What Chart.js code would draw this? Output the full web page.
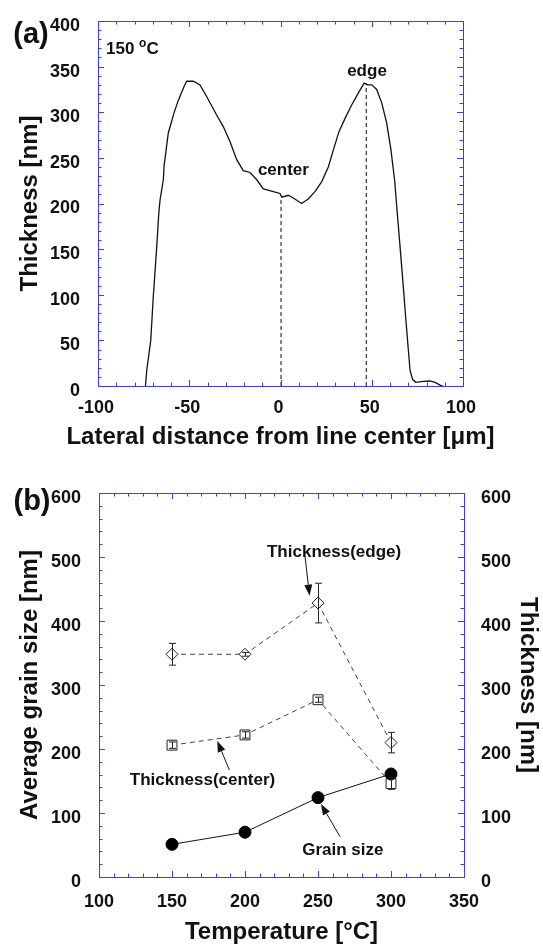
<!DOCTYPE html>
<html>
<head>
  <title>Thickness profile and grain size</title>
  <script src="https://cdn.jsdelivr.net/npm/chart.js"></script>
  <style>
    body { margin: 0; background: #fff; }
    canvas { position: absolute; left: 0; }
  </style>
</head>
<body>
  <canvas id="chartA" width="543" height="470" style="top:0"></canvas>
  <canvas id="chartB" width="543" height="474" style="top:470px"></canvas>

  <script>
    // (a) thickness profile across the line, 150 C
    const profileX = [-74, -73.3, -71.1, -69.7, -67.8, -66.7, -66, -64.2, -63.8, -61.5, -58.4, -56, -52.9, -51.4, -47.8,
      -44.1, -40.4, -35, -31.3, -27.7, -24, -20.4, -16.7, -13, -9.4, -3.9, -0.3, 0.7, 4.3, 7, 11.6, 15.2, 18.9, 22.6,
      26.2, 29, 32.1, 35.3, 39, 42.6, 45.8, 47.6, 50, 52.7, 55.5, 58.2, 60.5, 62.5, 64, 65.5, 67, 68.4, 69.9, 71,
      72.4, 74.2, 78.2, 81.9, 84.7, 87.4, 88.9];
    const profileY = [0, 17, 50, 98, 153, 189, 204, 226, 241, 277, 299, 313, 328, 334, 334,
      330, 317, 297, 284, 268, 248, 236, 234, 226, 216, 213, 211, 207, 209, 206, 200, 205, 213, 224,
      240, 259, 279, 293, 308, 321, 332, 330, 330, 325, 310, 288, 259, 226, 189, 153, 116, 80, 43, 17,
      7, 4, 5, 5.5, 4, 1, 0];
    const markX = [0.3, 47];        // dashed lines: center and edge
    const markTop = [207, 332];
    const aXTicks = [-100, -50, 0, 50, 100];
    const aYTicks = [0, 50, 100, 150, 200, 250, 300, 350, 400];

    // (b) versus temperature
    const temps = [150, 200, 250, 300];
    const grainSize = [51, 70, 124, 161];
    const thickEdge = [348, 348, 428, 210];
    const thickEdgeErr = [17, 3, 31, 16];
    const thickCenter = [206, 222, 277, 146];
    const thickCenterErr = [5, 5, 4, 9];
    const bXTicks = [100, 150, 200, 250, 300, 350];
    const bYTicks = [0, 100, 200, 300, 400, 500, 600];

    const FONT = "'Liberation Sans', Arial, sans-serif";
    Chart.defaults.font.family = FONT;
    Chart.defaults.color = '#111';

    const pts = (xs, ys) => xs.map((x, i) => ({ x: x, y: ys[i] }));
    const useTicks = list => scale => { scale.ticks = list.map(v => ({ value: v })); };

    // blue frame with inward major/minor ticks on all four sides
    const frameTicks = {
      id: 'frameTicks',
      afterDatasetsDraw(chart, args, opts) {
        const { ctx, chartArea: a, scales } = chart;
        ctx.save();
        ctx.strokeStyle = '#3b3bf5';
        ctx.lineWidth = 1;
        ctx.beginPath();
        const run = (scale, minor, horiz) => {
          for (let v = scale.min; v <= scale.max + 1e-6; v += minor) {
            const major = scale.ticks.some(t => Math.abs(t.value - v) < 1e-6);
            const len = major ? 6 : 3.5;
            const p = Math.round(scale.getPixelForValue(v)) + 0.5;
            if (horiz) {
              ctx.moveTo(p, a.bottom); ctx.lineTo(p, a.bottom - len);
              ctx.moveTo(p, a.top); ctx.lineTo(p, a.top + len);
            } else {
              ctx.moveTo(a.left, p); ctx.lineTo(a.left + len, p);
              ctx.moveTo(a.right, p); ctx.lineTo(a.right - len, p);
            }
          }
        };
        run(scales.x, opts.xMinor, true);
        run(scales.y, opts.yMinor, false);
        ctx.stroke();
        ctx.strokeRect(Math.round(a.left) + 0.5, Math.round(a.top) + 0.5, Math.round(a.width), Math.round(a.height));
        ctx.restore();
      }
    };

    // error bars from dataset.errorBars
    const errorBars = {
      id: 'errorBars',
      afterDatasetsDraw(chart) {
        const { ctx, scales: { y } } = chart;
        ctx.save();
        ctx.strokeStyle = '#222';
        ctx.lineWidth = 1;
        chart.data.datasets.forEach((ds, di) => {
          if (!ds.errorBars) return;
          chart.getDatasetMeta(di).data.forEach((el, i) => {
            const v = ds.data[i].y, e = ds.errorBars[i];
            const px = Math.round(el.x) + 0.5;
            const top = y.getPixelForValue(v + e), bot = y.getPixelForValue(v - e);
            ctx.beginPath();
            ctx.moveTo(px, top); ctx.lineTo(px, bot);
            ctx.moveTo(px - 3.5, top); ctx.lineTo(px + 3.5, top);
            ctx.moveTo(px - 3.5, bot); ctx.lineTo(px + 3.5, bot);
            ctx.stroke();
          });
        });
        ctx.restore();
      }
    };

    function arrow(ctx, x1, y1, x2, y2) {
      const ang = Math.atan2(y2 - y1, x2 - x1), L = 11, W = 4;
      const bx = x2 - L * Math.cos(ang), by = y2 - L * Math.sin(ang);
      ctx.beginPath(); ctx.moveTo(x1, y1); ctx.lineTo(bx, by); ctx.stroke();
      ctx.beginPath();
      ctx.moveTo(x2, y2);
      ctx.lineTo(bx + W * Math.sin(ang), by - W * Math.cos(ang));
      ctx.lineTo(bx - W * Math.sin(ang), by + W * Math.cos(ang));
      ctx.closePath(); ctx.fill();
    }

    // text notes placed in data coordinates, arrows, panel letter, wide axis title
    const notes = {
      id: 'notes',
      afterDatasetsDraw(chart, args, opts) {
        const { ctx, chartArea: area, scales: { x, y } } = chart;
        ctx.save();
        ctx.fillStyle = '#111';
        ctx.strokeStyle = '#111';
        ctx.lineWidth = 1;
        ctx.textBaseline = 'middle';
        (opts.labels || []).forEach(l => {
          let px = x.getPixelForValue(l.x);
          const py = y.getPixelForValue(l.y);
          const parts = l.parts || [[l.text, 0]];
          const widths = parts.map(p => {
            ctx.font = 'bold ' + (p[1] ? 12 : 17) + 'px ' + FONT;
            return ctx.measureText(p[0]).width;
          });
          const total = widths.reduce((s, w) => s + w, 0);
          if (l.align !== 'left') px -= total / 2;
          ctx.textAlign = 'left';
          parts.forEach((p, i) => {
            ctx.font = 'bold ' + (p[1] ? 12 : 17) + 'px ' + FONT;
            ctx.fillText(p[0], px, py - (p[1] ? 6 : 0));
            px += widths[i];
          });
        });
        (opts.arrows || []).forEach(ar => {
          arrow(ctx, x.getPixelForValue(ar[0]), y.getPixelForValue(ar[1]),
            x.getPixelForValue(ar[2]), y.getPixelForValue(ar[3]));
        });
        ctx.textAlign = 'center';
        if (opts.panel) {
          ctx.font = 'bold 29px ' + FONT;
          ctx.fillText(opts.panel.text, opts.panel.x, opts.panel.y);
        }
        if (opts.xTitle) {
          ctx.font = 'bold 24px ' + FONT;
          ctx.fillText(opts.xTitle.text, (area.left + area.right) / 2, area.bottom + opts.xTitle.gap);
        }
        ctx.restore();
      }
    };

    const tickFont = { size: 18, weight: 'bold' };
    const titleFont = { size: 24, weight: 'bold', lineHeight: 1 };

    new Chart(document.getElementById('chartA'), {
      type: 'scatter',
      data: {
        datasets: [
          { data: pts(profileX, profileY), showLine: true, borderColor: '#111', borderWidth: 1.3, pointRadius: 0 },
          { data: [{ x: markX[0], y: 0 }, { x: markX[0], y: markTop[0] }], showLine: true,
            borderColor: '#333', borderWidth: 1.2, borderDash: [4, 3], pointRadius: 0 },
          { data: [{ x: markX[1], y: 0 }, { x: markX[1], y: markTop[1] }], showLine: true,
            borderColor: '#333', borderWidth: 1.2, borderDash: [4, 3], pointRadius: 0 }
        ]
      },
      options: {
        responsive: false,
        animation: false,
        layout: { padding: { top: 21, right: 80, left: 0, bottom: 0 } },
        plugins: {
          legend: { display: false },
          tooltip: { enabled: false },
          frameTicks: { xMinor: 10, yMinor: 10 },
          notes: {
            labels: [
              { parts: [['150 ', 0], ['o', 1], ['C', 0]], x: -95.6, y: 369, align: 'left' },
              { text: 'center', x: 1.6, y: 236.7 },
              { text: 'edge', x: 47.4, y: 345 }
            ],
            panel: { text: '(a)', x: 31, y: 35 },
            xTitle: { text: 'Lateral distance from line center [\u03bcm]', gap: 51 }
          }
        },
        scales: {
          x: {
            type: 'linear', min: -100, max: 100,
            afterBuildTicks: useTicks(aXTicks),
            afterFit: s => { s.height = 84; },
            grid: { display: false }, border: { display: false },
            ticks: { font: tickFont, padding: 3, labelOffset: -2, maxRotation: 0 }
          },
          y: {
            type: 'linear', min: 0, max: 400,
            afterBuildTicks: useTicks(aYTicks),
            afterFit: s => { s.width = 98; },
            grid: { display: false }, border: { display: false },
            ticks: { font: tickFont, padding: 10, labelOffset: 5 },
            title: { display: true, text: 'Thickness [nm]', font: titleFont, padding: { top: 18 } }
          }
        }
      },
      plugins: [frameTicks, notes]
    });

    new Chart(document.getElementById('chartB'), {
      type: 'scatter',
      data: {
        datasets: [
          { label: 'Grain size', data: pts(temps, grainSize), showLine: true,
            borderColor: '#111', borderWidth: 1, pointRadius: 6, pointBackgroundColor: '#000', pointBorderColor: '#000' },
          { label: 'Thickness(edge)', data: pts(temps, thickEdge), showLine: true, errorBars: thickEdgeErr,
            borderColor: '#444', borderWidth: 1, borderDash: [5, 4], pointStyle: 'rectRot', pointRadius: 6,
            pointBackgroundColor: '#fff', pointBorderColor: '#222', pointBorderWidth: 1 },
          { label: 'Thickness(center)', data: pts(temps, thickCenter), showLine: true, errorBars: thickCenterErr,
            borderColor: '#444', borderWidth: 1, borderDash: [5, 4], pointStyle: 'rect', pointRadius: 7,
            pointBackgroundColor: '#fff', pointBorderColor: '#222', pointBorderWidth: 1 }
        ]
      },
      options: {
        responsive: false,
        animation: false,
        layout: { padding: { top: 23, right: 0, left: 0, bottom: 0 } },
        plugins: {
          legend: { display: false },
          tooltip: { enabled: false },
          frameTicks: { xMinor: 10, yMinor: 20 },
          notes: {
            labels: [
              { text: 'Thickness(edge)', x: 261, y: 508 },
              { text: 'Thickness(center)', x: 170.9, y: 151.6 },
              { text: 'Grain size', x: 267, y: 42.2 }
            ],
            arrows: [
              [241.1, 501.6, 244.2, 439.5],
              [189.3, 167.2, 181, 212.5],
              [265.1, 63, 252, 114]
            ],
            panel: { text: '(b)', x: 32, y: 32 }
          }
        },
        scales: {
          x: {
            type: 'linear', min: 100, max: 350,
            afterBuildTicks: useTicks(bXTicks),
            afterFit: s => { s.height = 67; },
            grid: { display: false }, border: { display: false },
            ticks: { font: tickFont, padding: 6, maxRotation: 0 },
            title: { display: true, text: 'Temperature [\u00b0C]', font: titleFont, padding: { bottom: 0 } }
          },
          y: {
            type: 'linear', min: 0, max: 600,
            afterBuildTicks: useTicks(bYTicks),
            afterFit: s => { s.width = 99; },
            grid: { display: false }, border: { display: false },
            ticks: { font: tickFont, padding: 10, labelOffset: 5 },
            title: { display: true, text: 'Average grain size [nm]', font: titleFont, padding: { top: 18 } }
          },
          y2: {
            type: 'linear', position: 'right', min: 0, max: 600,
            afterBuildTicks: useTicks(bYTicks),
            afterFit: s => { s.width = 79; },
            grid: { display: false }, border: { display: false },
            ticks: { font: tickFont, padding: 9, labelOffset: 5 },
            title: { display: true, text: 'Thickness [nm]', font: titleFont, padding: { top: 3.5 } }
          }
        }
      },
      plugins: [frameTicks, errorBars, notes]
    });
  </script>
</body>
</html>
